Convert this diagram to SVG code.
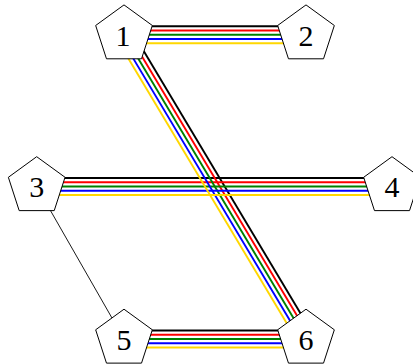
<svg xmlns="http://www.w3.org/2000/svg" xmlns:xlink="http://www.w3.org/1999/xlink" width="413" height="364" viewBox="0 0 413 364">
<style>
.e{fill:none;stroke-width:1.9}
.k{stroke:#000}.r{stroke:#ff0000}.g{stroke:#008000}.b{stroke:#0000ff}.y{stroke:#ffd700}
.n{fill:#fff;stroke:#000;stroke-width:1}
.t{font-family:"Liberation Serif","DejaVu Serif",serif;font-size:30px;text-anchor:middle;fill:#000}
</style>
<defs>
<polygon id="pent" points="0,-29.8 28.34,-9.21 17.52,24.11 -17.52,24.11 -28.34,-9.21"/>
</defs>
<rect width="413" height="364" fill="#fff"/>
<g id="connectors">
<line x1="36.7" y1="186.5" x2="124" y2="339" stroke="#000" stroke-width="0.9"/>
<g class="e k">
<line x1="124" y1="26.2" x2="306" y2="26.2"/>
<line x1="131.3" y1="30.34" x2="313.3" y2="334.64"/>
<line x1="36.7" y1="178" x2="392" y2="178"/>
<line x1="124" y1="330.5" x2="306" y2="330.5"/>
</g>
<g class="e r">
<line x1="124" y1="30.45" x2="306" y2="30.45"/>
<line x1="127.65" y1="32.52" x2="309.65" y2="336.82"/>
<line x1="36.7" y1="182.25" x2="392" y2="182.25"/>
<line x1="124" y1="334.75" x2="306" y2="334.75"/>
</g>
<g class="e g">
<line x1="124" y1="34.7" x2="306" y2="34.7"/>
<line x1="124" y1="34.7" x2="306" y2="339"/>
<line x1="36.7" y1="186.5" x2="392" y2="186.5"/>
<line x1="124" y1="339" x2="306" y2="339"/>
</g>
<g class="e b">
<line x1="124" y1="38.95" x2="306" y2="38.95"/>
<line x1="120.35" y1="36.88" x2="302.35" y2="341.18"/>
<line x1="36.7" y1="190.75" x2="392" y2="190.75"/>
<line x1="124" y1="343.25" x2="306" y2="343.25"/>
</g>
<g class="e y">
<line x1="124" y1="43.2" x2="306" y2="43.2"/>
<line x1="116.7" y1="39.06" x2="298.7" y2="343.36"/>
<line x1="36.7" y1="195" x2="392" y2="195"/>
<line x1="124" y1="347.5" x2="306" y2="347.5"/>
</g>
</g>
<g id="node1"><use xlink:href="#pent" href="#pent" class="n" x="124" y="34.7"/><text class="t" x="123" y="45.5">1</text></g>
<g id="node2"><use xlink:href="#pent" href="#pent" class="n" x="306" y="34.7"/><text class="t" x="306" y="45.5">2</text></g>
<g id="node3"><use xlink:href="#pent" href="#pent" class="n" x="36.7" y="186.5"/><text class="t" x="36.7" y="197.3">3</text></g>
<g id="node4"><use xlink:href="#pent" href="#pent" class="n" x="392" y="186.5"/><text class="t" x="392" y="197.3">4</text></g>
<g id="node5"><use xlink:href="#pent" href="#pent" class="n" x="124" y="339"/><text class="t" x="124" y="349.8">5</text></g>
<g id="node6"><use xlink:href="#pent" href="#pent" class="n" x="306" y="339"/><text class="t" x="306" y="349.8">6</text></g>
</svg>
